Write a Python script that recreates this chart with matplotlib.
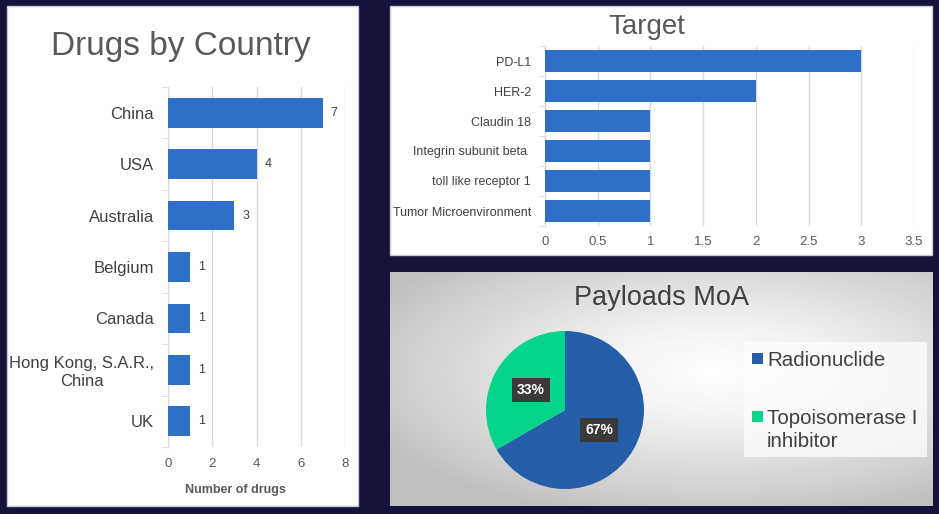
import numpy as np
import matplotlib
matplotlib.use("Agg")
import matplotlib.pyplot as plt
from matplotlib.patches import Rectangle
from matplotlib import font_manager

# ---------------- data ----------------
countries = ["China", "USA", "Australia", "Belgium", "Canada",
             "Hong Kong, S.A.R.,\nChina", "UK"]
country_counts = [7, 4, 3, 1, 1, 1, 1]
country_xticks = [0, 2, 4, 6, 8]

targets = ["PD-L1", "HER-2", "Claudin 18", "Integrin subunit beta ",
           "toll like receptor 1", "Tumor Microenvironment"]
target_counts = [3, 2, 1, 1, 1, 1]
target_xticks = [0, 0.5, 1, 1.5, 2, 2.5, 3, 3.5]

payloads = ["Radionuclide", "Topoisomerase I\ninhibitor"]
payload_counts = [2, 1]

# ---------------- style ----------------
names = {f.name for f in font_manager.fontManager.ttflist}
BASE = "Liberation Sans" if "Liberation Sans" in names else "DejaVu Sans"
NARROW = "Liberation Sans Narrow" if "Liberation Sans Narrow" in names else BASE
plt.rcParams["font.family"] = [BASE, "DejaVu Sans"]

W, H = 939, 514
BG = "#15123b"
BAR = "#2e6fc9"
GRID = "#d9d9d9"
TXT = "#404040"
TTL = "#595959"

fig = plt.figure(figsize=(W / 100, H / 100), dpi=100, facecolor=BG)


def rect(x0, y0, x1, y1):
    return [x0 / W, 1 - y1 / H, (x1 - x0) / W, (y1 - y0) / H]


def fx(x):
    return x / W


def fy(y):
    return 1 - y / H


# panel backgrounds
fig.patches.append(Rectangle((fx(7), fy(506)), fx(358) - fx(7), fy(6) - fy(506),
                             transform=fig.transFigure, fc="white", ec="#c8c8d0", lw=1, zorder=-2))
fig.patches.append(Rectangle((fx(390), fy(255)), fx(932) - fx(390), fy(6) - fy(255),
                             transform=fig.transFigure, fc="white", ec="#c8c8d0", lw=1, zorder=-2))

# gradient panel for pie
gax = fig.add_axes(rect(390, 272, 932, 506), zorder=-1)
gx = np.linspace(-1, 1, 400)
gy = np.linspace(-1, 1, 200)
GX, GY = np.meshgrid(gx, gy)
R = np.sqrt(((GX - 0.2) / 1.1) ** 2 + ((GY + 0.15) / 1.0) ** 2)
Z = 1 - 0.25 * np.clip(R / 1.3, 0, 1) ** 1.3
gax.imshow(Z, cmap="gray", vmin=0, vmax=1, aspect="auto", extent=[0, 1, 0, 1],
           interpolation="bilinear")
gax.set_axis_off()

# ---------------- left: Drugs by Country ----------------
ax1 = fig.add_axes(rect(168, 87, 345, 447), zorder=2)
ypos = np.arange(len(countries))
ax1.barh(ypos, country_counts, height=0.58, color=BAR, zorder=3)
ax1.set_ylim(len(countries) - 0.5, -0.5)
ax1.set_xlim(0, 8)
ax1.set_xticks(country_xticks)
ax1.set_yticks(ypos)
ax1.set_yticklabels(countries, fontsize=12, color=TXT)
for lbl in ax1.get_yticklabels():
    lbl.set_multialignment("center")
ax1.set_yticks(np.arange(-0.5, len(countries)), minor=True)
ax1.tick_params(axis="y", which="major", length=0, pad=10)
ax1.tick_params(axis="y", which="minor", length=5, color=GRID, direction="out")
ax1.tick_params(axis="x", length=0, labelsize=9.5, labelcolor=TTL, pad=8)
ax1.grid(axis="x", color=GRID, lw=1, zorder=0)
for s in ["top", "right", "bottom"]:
    ax1.spines[s].set_visible(False)
ax1.spines["left"].set_color(GRID)
ax1.set_xlabel("Number of drugs", fontsize=9, fontweight="bold", color=TTL)
ax1.xaxis.set_label_coords(0.38, -0.103)
for y, v in zip(ypos, country_counts):
    ax1.text(v + 0.35, y, str(v), va="center", ha="left", fontsize=9, color=TXT)
fig.text(fx(181), fy(47), "Drugs by Country", ha="center", va="center",
         fontsize=24, color=TTL)

# ---------------- top right: Target ----------------
ax2 = fig.add_axes(rect(545, 46, 914, 226), zorder=2)
tpos = np.arange(len(targets))
ax2.barh(tpos, target_counts, height=0.75, color=BAR, zorder=3)
ax2.set_ylim(len(targets) - 0.5, -0.5)
ax2.set_xlim(0, 3.5)
ax2.set_xticks(target_xticks)
ax2.set_xticklabels([f"{t:g}" for t in target_xticks], fontsize=9.5, color=TTL,
                    family=[NARROW, "DejaVu Sans"])
ax2.set_yticks(tpos)
ax2.set_yticklabels(targets, fontsize=9, color=TXT, family=[NARROW, "DejaVu Sans"])
ax2.set_yticks(np.arange(-0.5, len(targets)), minor=True)
ax2.tick_params(axis="y", which="major", length=0, pad=10)
ax2.tick_params(axis="y", which="minor", length=4, color=GRID, direction="out")
ax2.tick_params(axis="x", length=0, pad=7)
ax2.grid(axis="x", color=GRID, lw=1, zorder=0)
for s in ["top", "right", "bottom"]:
    ax2.spines[s].set_visible(False)
ax2.spines["left"].set_color(GRID)
fig.text(fx(647), fy(27), "Target", ha="center", va="center", fontsize=20, color=TTL)

# ---------------- bottom right: Payloads MoA ----------------
ax3 = fig.add_axes(rect(486, 331, 644, 489), zorder=2)
ax3.set_facecolor("none")
pie_colors = ["#255ea9", "#05d48a"]
wedges, _, autotexts = ax3.pie(payload_counts, colors=pie_colors, startangle=90,
                               counterclock=False, radius=1,
                               autopct=lambda p: f"{p:.0f}%", pctdistance=0.5)
for t in autotexts:
    t.set_color("white")
    t.set_fontweight("bold")
    t.set_fontsize(10)
    t.set_bbox(dict(boxstyle="square,pad=0.35", fc="#3a3a3a", ec="none"))
ax3.set_xlim(-1, 1)
ax3.set_ylim(-1, 1)
ax3.set_aspect("equal")
fig.text(fx(662), fy(298), "Payloads MoA", ha="center", va="center",
         fontsize=19.5, color=TXT)

# legend
fig.patches.append(Rectangle((fx(744), fy(457)), fx(927) - fx(744), fy(342) - fy(457),
                             transform=fig.transFigure, fc="white", ec="none", alpha=0.75,
                             zorder=1))
leg_y = [359, 417]
for lab, col, yy in zip(payloads, pie_colors, leg_y):
    fig.patches.append(Rectangle((fx(752), fy(yy + 5)), fx(763) - fx(752), fy(yy - 6) - fy(yy + 5),
                                 transform=fig.transFigure, fc=col, ec="none", zorder=2))
    fig.text(fx(767), fy(yy - 8), lab, ha="left", va="top", fontsize=14.8,
             color=TXT, linespacing=1.28, zorder=3)

fig.savefig("out.png", dpi=100, facecolor=BG)
